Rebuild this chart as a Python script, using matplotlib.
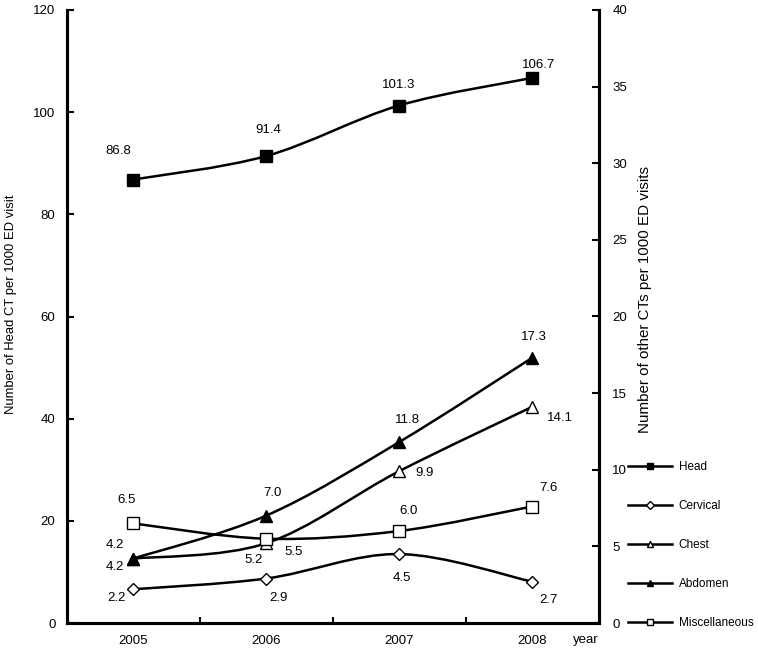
import matplotlib
matplotlib.use("Agg")
import matplotlib.pyplot as plt
from matplotlib.path import Path
from matplotlib.patches import PathPatch
from matplotlib.lines import Line2D

plt.rcParams['font.family'] = ['Liberation Sans', 'DejaVu Sans']
plt.rcParams['font.size'] = 9.5

years = [2005, 2006, 2007, 2008]
head = [86.8, 91.4, 101.3, 106.7]
cervical = [2.2, 2.9, 4.5, 2.7]
chest = [4.2, 5.2, 9.9, 14.1]
abdomen = [4.2, 7.0, 11.8, 17.3]
misc = [6.5, 5.5, 6.0, 7.6]

# label offsets in pixels (dx, dy) for each point
head_off = [(-15, 29), (2, 26), (0, 21), (7, 13)]
cerv_off = [(-16, -9), (13, -19), (3, -24), (17, -18)]
chest_off = [(-18, -8), (-12, -17), (26, -2), (28, -11)]
abd_off = [(-18, 14), (7, 23), (8, 22), (2, 21)]
misc_off = [(-6, 23), (28, -13), (10, 20), (17, 19)]


def smooth_path(x, y):
    # excel-like smoothed line (bezier through the points)
    n = len(x)
    verts = [(x[0], y[0])]
    codes = [Path.MOVETO]
    for i in range(n - 1):
        xa, ya = (x[i - 1], y[i - 1]) if i > 0 else (x[i], y[i])
        xb, yb = (x[i + 2], y[i + 2]) if i + 2 < n else (x[i + 1], y[i + 1])
        c1 = (x[i] + (x[i + 1] - xa) / 6.0, y[i] + (y[i + 1] - ya) / 6.0)
        c2 = (x[i + 1] - (xb - x[i]) / 6.0, y[i + 1] - (yb - y[i]) / 6.0)
        verts += [c1, c2, (x[i + 1], y[i + 1])]
        codes += [Path.CURVE4] * 3
    return Path(verts, codes)


def draw(axis, vals, marker, face, ms, offs):
    axis.add_patch(PathPatch(smooth_path(years, vals), fill=False,
                             lw=1.8, edgecolor='black', zorder=2))
    axis.plot(years, vals, ls='none', marker=marker, ms=ms, mfc=face,
              mec='black', mew=1.0, zorder=3, clip_on=False)
    for xv, yv, (dx, dy) in zip(years, vals, offs):
        axis.annotate("%.1f" % yv, (xv, yv), xytext=(dx, dy),
                      textcoords='offset pixels', ha='center', va='center')


fig = plt.figure(figsize=(7.58, 6.59), dpi=100)
ax = fig.add_axes([66.5 / 758, 1 - 623 / 659, 532 / 758, 613 / 659])
ax2 = ax.twinx()

draw(ax, head, 's', 'black', 9, head_off)
draw(ax2, cervical, 'D', 'white', 6.5, cerv_off)
draw(ax2, chest, '^', 'white', 9, chest_off)
draw(ax2, abdomen, '^', 'black', 9, abd_off)
draw(ax2, misc, 's', 'white', 9, misc_off)

ax.set_xlim(2004.5, 2008.5)
ax.set_ylim(0, 120)
ax2.set_ylim(0, 40)
ax.set_xticks(years)
ax.set_xticks([2005.5, 2006.5, 2007.5], minor=True)
ax.tick_params(axis='x', which='major', length=0, pad=9)
ax.tick_params(axis='x', which='minor', direction='in', length=4, width=1.5)
ax.set_yticks(range(0, 121, 20))
ax.tick_params(axis='y', direction='in', length=5, width=1.5, pad=8)
ax2.set_yticks(range(0, 41, 5))
ax2.tick_params(axis='y', direction='in', length=5, width=1.5, pad=10)

for a in (ax, ax2):
    a.spines['top'].set_visible(False)
    for s in ('left', 'right', 'bottom'):
        a.spines[s].set_linewidth(2.2)

fig.text(11 / 758, 1 - 304 / 659, "Number of Head CT per 1000 ED visit",
         rotation=90, ha='center', va='center', fontsize=9.4)
fig.text(645 / 758, 1 - 300 / 659, "Number of other CTs per 1000 ED visits",
         rotation=90, ha='center', va='center', fontsize=10.9)
ax.text(0.977, -0.028, "year", transform=ax.transAxes, ha='center', va='center')

handles = [
    Line2D([], [], color='k', lw=1.8, marker='s', ms=5, mfc='black', mec='k'),
    Line2D([], [], color='k', lw=1.8, marker='D', ms=4, mfc='white', mec='k'),
    Line2D([], [], color='k', lw=1.8, marker='^', ms=5, mfc='white', mec='k'),
    Line2D([], [], color='k', lw=1.8, marker='^', ms=5, mfc='black', mec='k'),
    Line2D([], [], color='k', lw=1.8, marker='s', ms=5, mfc='white', mec='k'),
]
names = ["Head", "Cervical", "Chest", "Abdomen", "Miscellaneous"]
fig.legend(handles, names, loc='center left',
           bbox_to_anchor=(628 / 758, 1 - 545 / 659), frameon=False,
           fontsize=8.5, handlelength=3.7, handletextpad=0.6,
           labelspacing=2.3, borderpad=0, borderaxespad=0)

fig.savefig("out.png", dpi=100)
